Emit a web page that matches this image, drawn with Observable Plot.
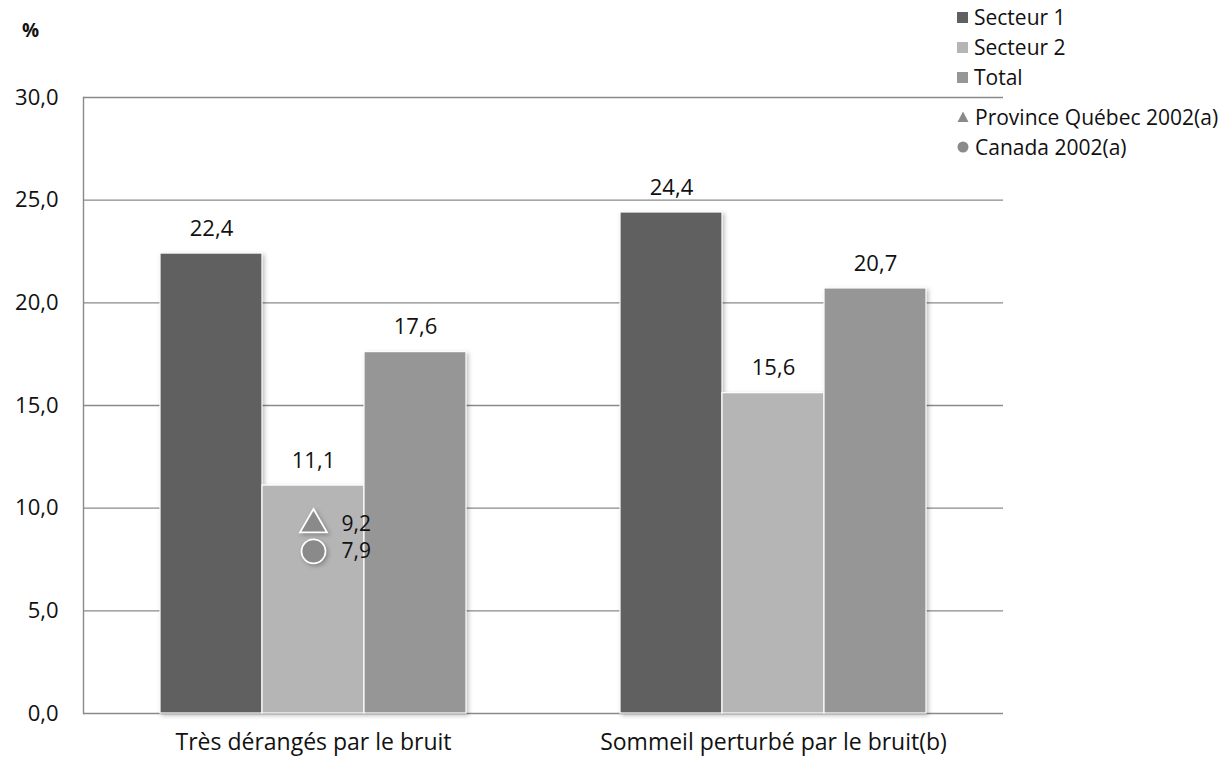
<!DOCTYPE html>
<html>
<head>
<meta charset="utf-8">
<script src="https://cdn.jsdelivr.net/npm/d3@7"></script>
<script src="https://cdn.jsdelivr.net/npm/@observablehq/plot@0.6"></script>
<style>
  body { margin: 0; background: #fff; font-family: "Open Sans", sans-serif; }
  #wrap { position: relative; width: 1230px; height: 761px; }
  #pct { position: absolute; left: 22px; top: 17px; font-size: 19px; font-weight: bold; color: #111; }
  #legend { position: absolute; left: 957px; top: 2px; font-size: 21px; color: #111; }
  #legend .item { display: flex; align-items: center; height: 30px; white-space: nowrap; }
  #legend .sw { width: 11px; height: 11px; margin-right: 6px; display: inline-block; }
  #legend svg { margin-right: 6px; }
  .shadow { filter: drop-shadow(2px 2px 2px rgba(0,0,0,0.25)); }
</style>
</head>
<body>
<div id="wrap">
  <div id="pct">%</div>
  <div id="legend"></div>
  <div id="chart"></div>
</div>
<script>
// Indicator categories (x facets) and series names
const categories = ["Très dérangés par le bruit", "Sommeil perturbé par le bruit(b)"];
const series = ["Secteur 1", "Secteur 2", "Total"];
const secteur1 = [22.4, 24.4];
const secteur2 = [11.1, 15.6];
const total = [17.6, 20.7];
const colors = ["#606060", "#b5b5b5", "#969696"];

// Reference values (2002) shown for the first indicator
const refNames = ["Province Québec 2002(a)", "Canada 2002(a)"];
const refSymbols = ["triangle", "circle"];
const refValues = [9.2, 7.9];
const refColor = "#8a8a8a";

const yTicks = [0, 5, 10, 15, 20, 25, 30];
const fmt = v => d3.format(".1f")(v).replace(".", ",");

const bars = [];
categories.forEach((c, i) => {
  [secteur1, secteur2, total].forEach((arr, j) => bars.push({category: c, series: series[j], value: arr[i]}));
});
const refs = refValues.map((v, i) => ({category: categories[0], series: "Secteur 2", value: v, symbol: refSymbols[i], name: refNames[i]}));

const grid = "#8a8a8a";
const numSize = 22;
const labelSize = 23;

const chart = Plot.plot({
  width: 1230,
  height: 761,
  marginLeft: 83,
  marginRight: 227,
  marginTop: 97,
  marginBottom: 48,
  style: {fontFamily: "Open Sans, sans-serif", fontSize: "20px", color: "#111", background: "transparent"},
  fx: {domain: categories, padding: 0, axis: null},
  x: {domain: series, padding: 0, paddingOuter: 0.748, axis: null},
  y: {domain: [0, 30], ticks: yTicks, tickFormat: fmt, label: null},
  color: {domain: series, range: colors},
  symbol: {domain: refSymbols, range: refSymbols},
  r: {type: "identity"},
  marks: [
    Plot.gridY(yTicks.filter(t => t > 0), {stroke: grid, strokeOpacity: 1, strokeWidth: 1.4}),
    Plot.axisY({ticks: yTicks, tickFormat: fmt, tickSize: 0, tickPadding: 25, fontSize: numSize}),
    Plot.frame({anchor: "left", stroke: grid, strokeWidth: 1.4, fx: () => categories[0]}),
    Plot.ruleY([0], {stroke: grid, strokeWidth: 1.4}),
    Plot.barY(bars, {fx: "category", x: "series", y: "value", fill: "series", stroke: "white", strokeWidth: 1.2, className: "shadow"}),
    Plot.text(bars, {fx: "category", x: "series", y: "value", text: d => fmt(d.value), dy: -25, fontSize: numSize, fill: "#111"}),
    Plot.dot(refs, {fx: "category", x: "series", y: "value", symbol: "symbol", r: d => d.symbol === "circle" ? 12 : 10, fill: refColor, stroke: "white", strokeWidth: 1.8, className: "shadow"}),
    Plot.text(refs, {fx: "category", x: "series", y: "value", text: d => fmt(d.value), dx: 28, textAnchor: "start", fontSize: 21, fill: "#111"}),
    // category labels under each group
    Plot.text(categories, {fx: d => d, text: d => d, frameAnchor: "bottom", dy: 36, fontSize: labelSize, fill: "#111"})
  ]
});
document.getElementById("chart").appendChild(chart);

// Legend
const legend = document.getElementById("legend");
series.forEach((s, i) => {
  const item = document.createElement("div");
  item.className = "item";
  item.innerHTML = `<span class="sw" style="background:${colors[i]}"></span><span>${s}</span>`;
  legend.appendChild(item);
});
refNames.forEach((n, i) => {
  const item = document.createElement("div");
  item.className = "item";
  if (i === 0) item.style.marginTop = "10px";
  const shape = refSymbols[i] === "triangle"
    ? `<polygon points="6,0.5 11.5,11 0.5,11" fill="${refColor}"/>`
    : `<circle cx="6" cy="6" r="5.5" fill="${refColor}"/>`;
  item.innerHTML = `<svg width="12" height="12">${shape}</svg><span>${n}</span>`;
  legend.appendChild(item);
});
</script>
</body>
</html>
